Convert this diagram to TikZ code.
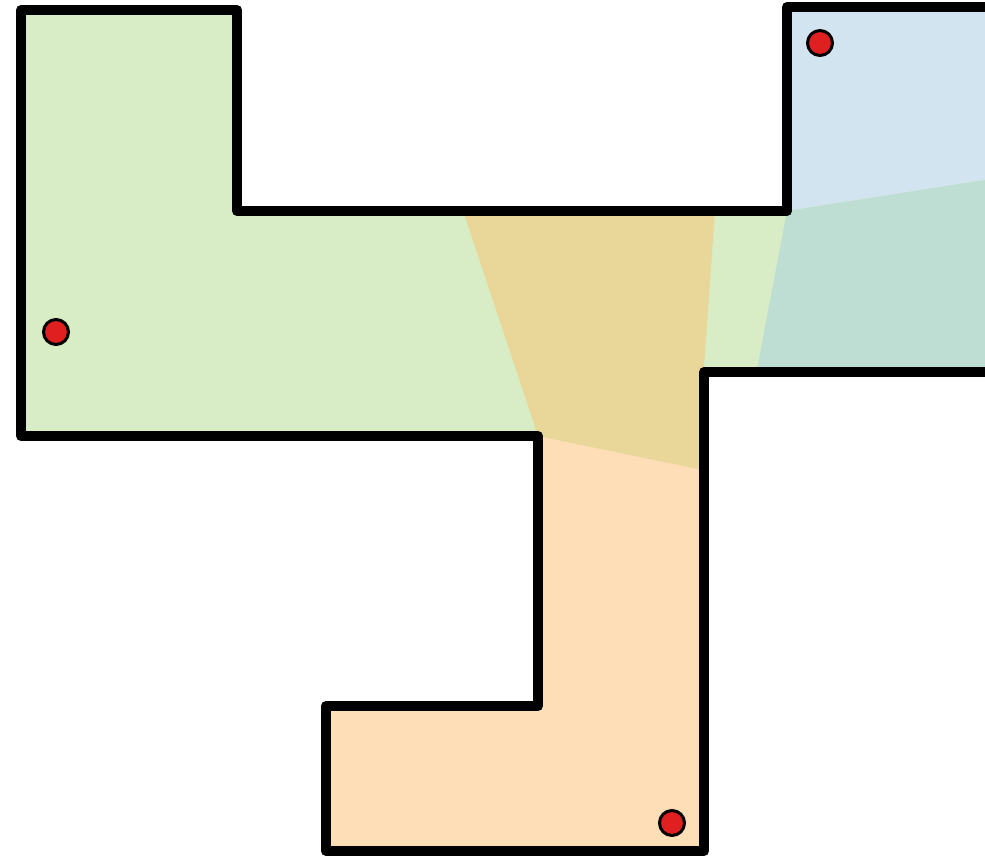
\documentclass[tikz,border=0pt]{standalone}
\usepackage{tikz}
\usepackage{xcolor}
\definecolor{cellgreen}{HTML}{D8EDC5}
\definecolor{celltan}{HTML}{E9D699}
\definecolor{cellpeach}{HTML}{FDDEB7}
\definecolor{cellteal}{HTML}{BEDDD3}
\definecolor{cellblue}{HTML}{D2E4EF}
\definecolor{seedred}{HTML}{E01F20}
\newcommand{\roomoutline}{(21,10) -- (237,10) -- (237,211) -- (787,211) -- (787,7)
  -- (1010,7) -- (1010,372) -- (704,372) -- (704,851) -- (326,851) -- (326,706)
  -- (538,706) -- (538,436) -- (21,436) -- cycle}

\begin{document}
\begin{tikzpicture}[x=0.02cm,y=-0.02cm,
  wall/.style={line width=0.2cm,line join=round,black},
  seed/.style={circle,draw=black,fill=seedred,line width=0.06cm,minimum size=0.5cm,inner sep=0pt}]
\clip (0,0) rectangle (985,856);
\begin{scope}
\clip \roomoutline;
\fill[cellgreen] (0,0) rectangle (1010,860);
\fill[cellblue] (787,0) -- (1010,0) -- (1010,176) -- (787,211) -- cycle;
\fill[cellteal] (787,211) -- (1010,176) -- (1010,380) -- (755,380) -- cycle;
\fill[cellpeach] (538,436) -- (710,471) -- (710,860) -- (300,860) -- (300,436) -- cycle;
\fill[celltan] (463,211) -- (715,211) -- (703,380) -- (703,470) -- (538,436) -- cycle;
\end{scope}
\draw[wall] \roomoutline;
\node[seed] (seedwest) at (56,332) {};
\node[seed] (seedeast) at (820,43) {};
\node[seed] (seedsouth) at (672,823) {};
\end{tikzpicture}
\end{document}
